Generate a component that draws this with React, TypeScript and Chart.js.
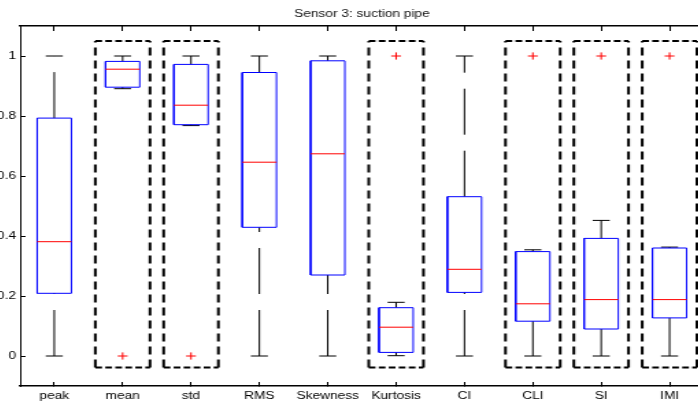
import React, { useEffect, useRef } from 'react';
import { Chart, registerables } from 'chart.js';

Chart.register(...registerables);

// ---- data ----
const categories = ['peak', 'mean', 'std', 'RMS', 'Skewness', 'Kurtosis', 'CI', 'CLI', 'SI', 'IMI'];
const lowerWhisker = [0, 0.891, 0.768, 0, 0, 0.001, 0, 0, 0, 0];
const q1 = [0.209, 0.896, 0.771, 0.429, 0.27, 0.012, 0.212, 0.116, 0.09, 0.127];
const medians = [0.381, 0.956, 0.836, 0.646, 0.674, 0.096, 0.289, 0.174, 0.188, 0.188];
const q3 = [0.793, 0.982, 0.972, 0.945, 0.984, 0.161, 0.531, 0.348, 0.392, 0.36];
const upperWhisker = [1, 1, 1, 1, 1, 0.179, 1, 0.354, 0.452, 0.363];
const outliers: number[][] = [[], [0], [0], [], [], [1], [], [1], [1], [1]];
const highlighted = ['mean', 'std', 'Kurtosis', 'CLI', 'SI', 'IMI'];
const highlightBottom = -0.038;
const highlightTop = 1.05;
const yTicks = [0, 0.2, 0.4, 0.6, 0.8, 1];
const yTickLabels = ['0', '0.2', '0.4', '0.6', '0.8', '1'];
const titleText = 'Sensor 3: suction pipe';

// ---- geometry / style ----
const BOX_HALF = 0.25;
const CAP_HALF = 0.125;
const HL_HALF = 0.4;
const FONT = { family: '"Liberation Sans", Arial, sans-serif', size: 10 };
const SX = 1.37;
const CW = 559;
const CH = 406;

type P = { x: number; y: number | null };

function buildDatasets() {
  const boxes: P[] = [];
  const meds: P[] = [];
  const whiskers: P[] = [];
  const caps: P[] = [];
  const outs: P[] = [];
  const hlH: P[] = [];
  const hlV: P[] = [];
  categories.forEach((c, i) => {
    const x = i + 1;
    boxes.push(
      { x: x - BOX_HALF, y: q1[i] }, { x: x + BOX_HALF, y: q1[i] }, { x: x + BOX_HALF, y: q3[i] },
      { x: x - BOX_HALF, y: q3[i] }, { x: x - BOX_HALF, y: q1[i] }, { x, y: null }
    );
    meds.push({ x: x - BOX_HALF, y: medians[i] }, { x: x + BOX_HALF, y: medians[i] }, { x, y: null });
    whiskers.push(
      { x, y: lowerWhisker[i] }, { x, y: q1[i] }, { x, y: null },
      { x, y: q3[i] }, { x, y: upperWhisker[i] }, { x, y: null }
    );
    caps.push(
      { x: x - CAP_HALF, y: lowerWhisker[i] }, { x: x + CAP_HALF, y: lowerWhisker[i] }, { x, y: null },
      { x: x - CAP_HALF, y: upperWhisker[i] }, { x: x + CAP_HALF, y: upperWhisker[i] }, { x, y: null }
    );
    outliers[i].forEach((v) => outs.push({ x, y: v }));
    if (highlighted.includes(c)) {
      hlH.push(
        { x: x - HL_HALF, y: highlightTop }, { x: x + HL_HALF, y: highlightTop }, { x, y: null },
        { x: x - HL_HALF, y: highlightBottom }, { x: x + HL_HALF, y: highlightBottom }, { x, y: null }
      );
      hlV.push(
        { x: x - HL_HALF, y: highlightBottom }, { x: x - HL_HALF, y: highlightTop }, { x, y: null },
        { x: x + HL_HALF, y: highlightBottom }, { x: x + HL_HALF, y: highlightTop }, { x, y: null }
      );
    }
  });

  const line = (data: P[], color: string, width: number, dash: number[], order: number) => ({
    data,
    showLine: true,
    spanGaps: false,
    borderColor: color,
    backgroundColor: color,
    borderWidth: width,
    borderDash: dash,
    borderCapStyle: 'butt',
    pointRadius: 0,
    pointHoverRadius: 0,
    fill: false,
    order,
  });

  return [
    line(hlH, '#000000', 2, [4.9, 2.4], 6),
    line(hlV, '#000000', 2, [8, 5], 6),
    line(whiskers, '#000000', 1, [46, 16], 5),
    line(caps, '#000000', 1, [], 4),
    line(boxes, '#0000ff', 1, [], 3),
    line(meds, '#ff0000', 1, [], 2),
    {
      data: outs,
      showLine: false,
      pointStyle: 'cross',
      pointRadius: 3.6,
      pointBorderWidth: 1,
      borderWidth: 1,
      borderColor: '#ff0000',
      backgroundColor: '#ff0000',
      order: 1,
    },
  ];
}

const xTicksFn = (s: any) => {
  s.ticks = categories.map((_, i) => ({ value: i + 1 }));
};
const yTicksFn = (s: any) => {
  s.ticks = yTicks.map((v) => ({ value: v }));
};

export default function App() {
  const ref = useRef<HTMLCanvasElement | null>(null);
  useEffect(() => {
    if (!ref.current) return;
    const chart = new Chart(ref.current, {
      type: 'scatter',
      data: { datasets: buildDatasets() as any },
      options: {
        responsive: false,
        animation: false,
        devicePixelRatio: 1,
        events: [],
        layout: { padding: 0 },
        plugins: {
          legend: { display: false },
          tooltip: { enabled: false },
          title: {
            display: true,
            text: titleText,
            color: '#111',
            font: { ...FONT, weight: 'normal' },
            padding: { top: 8.7, bottom: 5.3 },
          },
        },
        scales: {
          x: {
            type: 'linear',
            position: 'bottom',
            min: 0.5,
            max: 10.5,
            afterBuildTicks: xTicksFn,
            afterFit: (s: any) => { s.height = 20; },
            grid: { drawOnChartArea: false, drawTicks: true, tickLength: -4, color: '#000', lineWidth: 1 },
            border: { display: true, color: '#000', width: 1.5 },
            ticks: {
              autoSkip: false,
              maxRotation: 0,
              padding: 8,
              color: '#000',
              font: FONT,
              callback: (v: any) => categories[Math.round(Number(v)) - 1] ?? '',
            },
          },
          x2: {
            type: 'linear',
            position: 'top',
            min: 0.5,
            max: 10.5,
            afterBuildTicks: xTicksFn,
            afterFit: (s: any) => { s.height = 0; },
            grid: { drawOnChartArea: false, drawTicks: true, tickLength: -5, color: '#000', lineWidth: 1 },
            border: { display: true, color: '#000', width: 1.5 },
            ticks: { display: false },
          },
          y: {
            type: 'linear',
            position: 'left',
            min: -0.1,
            max: 1.1,
            afterBuildTicks: yTicksFn,
            afterFit: (s: any) => { s.width = 30; },
            grid: { drawOnChartArea: false, drawTicks: true, tickLength: -4, color: '#000', lineWidth: 1 },
            border: { display: true, color: '#000', width: 1 },
            ticks: {
              padding: 7,
              color: '#000',
              font: FONT,
              callback: (_v: any, idx: number) => yTickLabels[idx] ?? '',
            },
          },
          y2: {
            type: 'linear',
            position: 'right',
            min: -0.1,
            max: 1.1,
            afterBuildTicks: yTicksFn,
            afterFit: (s: any) => { s.width = 30; },
            grid: { drawOnChartArea: false, drawTicks: true, tickLength: -4, color: '#000', lineWidth: 1 },
            border: { display: true, color: '#000', width: 1 },
            ticks: { display: false },
          },
        },
      } as any,
    });
    return () => chart.destroy();
  }, []);

  return (
    <div style={{ position: 'fixed', left: 0, top: 0, width: 698, height: 401, overflow: 'hidden', background: '#fff' }}>
      <div
        style={{
          position: 'absolute',
          left: -21.1,
          top: 0,
          width: CW,
          height: CH,
          transform: `scaleX(${SX})`,
          transformOrigin: '0 0',
        }}
      >
        <canvas ref={ref} width={CW} height={CH} style={{ width: CW, height: CH, display: 'block' }} />
      </div>
    </div>
  );
}
